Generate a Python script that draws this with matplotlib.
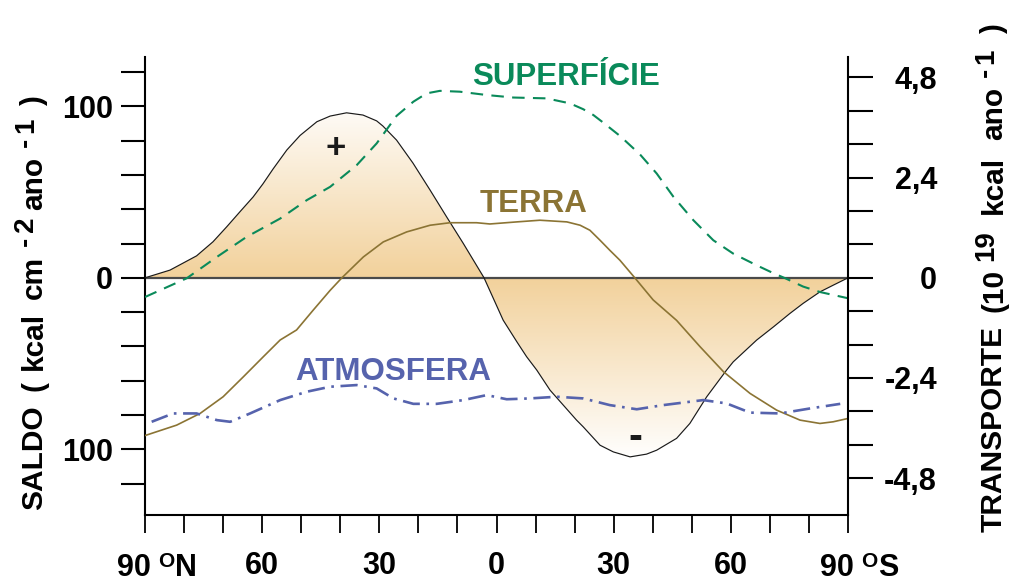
import numpy as np
import matplotlib
matplotlib.use("Agg")
import matplotlib.pyplot as plt
from matplotlib.colors import to_rgb
from matplotlib.transforms import IdentityTransform

plt.rcParams['font.family'] = ['Liberation Sans', 'DejaVu Sans']
plt.rcParams['font.weight'] = 'bold'

# --- data (latitude: + = north, - = south) ---
# SALDO (kcal cm-2 ano-1), left axis
saldo_lat = [90, 83.6, 76.8, 72.6, 69.1, 65.7, 62.3, 59.8, 57.2, 53.7, 50.3, 46, 42.6, 38.4, 34.2,
             30.7, 29.1, 25.6, 21.4, 17, 12.8, 8.5, 3.2, -1.7, -5.2, -7.7, -10.3, -13.7, -20.5,
             -22.2, -26.5, -29.9, -34.2, -38.4, -41, -46.1, -49.5, -53.8, -58.9, -60.6, -66.6,
             -70.9, -75.1, -78.5, -82.8, -86.2, -90]
saldo = [0, 4.5, 12.8, 21, 29.7, 38.5, 47.2, 54.8, 63.5, 74.5, 83, 91, 94.3, 96.2, 94.9,
         91.5, 88.5, 80.3, 66.9, 51.1, 35.6, 20, 0, -24.7, -37.3, -46, -53.8, -65.5, -83,
         -86.9, -97.6, -101.5, -104.4, -102.8, -100.5, -93.6, -84.9, -69.4, -53.8, -49, -36.3,
         -28.6, -20.8, -14.9, -8.2, -4.3, 0]

# TRANSPORTE (10^19 kcal ano-1), right axis
sup_lat = [90, 79.3, 71.6, 64, 55.4, 48.6, 42.6, 35.8, 30.7, 25.6, 21.3, 17.9, 14.5, 9.4, 2.5,
           -4.3, -12.8, -18.8, -22.2, -24.8, -27.3, -31.6, -36.7, -41, -45.3, -50.4, -55.5,
           -60.6, -66.6, -70.9, -73.9, -78.5, -82.8, -90]
superficie = [-0.46, -0.01, 0.50, 0.98, 1.42, 1.86, 2.18, 2.70, 3.22, 3.88, 4.22, 4.42, 4.48, 4.46, 4.38,
              4.32, 4.30, 4.18, 4.04, 3.90, 3.72, 3.40, 2.96, 2.50, 1.94, 1.38, 0.90,
              0.58, 0.30, 0.11, -0.01, -0.21, -0.34, -0.49]

terra_lat = [90, 81.9, 75.9, 70, 64.8, 59.7, 55.4, 51.2, 46.9, 42.6, 39.6, 34.1, 29, 23, 17, 11.9,
             5.1, 1.7, -5.2, -11.1, -18, -21.4, -23.9, -26.5, -29, -31.6, -35.4, -40.1, -46.1,
             -52.1, -58.1, -64.9, -71.7, -77.7, -82.8, -86.2, -90]
terra = [-3.78, -3.53, -3.25, -2.85, -2.37, -1.89, -1.49, -1.25, -0.77, -0.30, 0.0, 0.50, 0.86, 1.10,
         1.26, 1.32, 1.32, 1.29, 1.34, 1.38, 1.34, 1.26, 1.14, 0.90, 0.66, 0.42, 0.0, -0.53, -1.02,
         -1.65, -2.25, -2.77, -3.17, -3.41, -3.49, -3.45, -3.37]

atm_lat = [88.3, 82.8, 76.8, 71.6, 68.2, 63.1, 55.4, 48.6, 42.6, 35.8, 30.7, 26.4, 21.3, 15.3, 8.5,
           2.5, -2.6, -8.6, -15.4, -22.2, -29, -35.9, -42.7, -52.9, -58.9, -64.9, -72.6, -80.3, -88]
atmosfera = [-3.45, -3.25, -3.25, -3.41, -3.45, -3.25, -2.93, -2.73, -2.61, -2.57, -2.65, -2.89,
             -3.02, -3.02, -2.93, -2.81, -2.91, -2.89, -2.85, -2.89, -3.05, -3.15, -3.05, -2.93,
             -3.01, -3.23, -3.25, -3.13, -3.02]

x_ticks = [90, 80, 70, 60, 50, 40, 30, 20, 10, 0, -10, -20, -30, -40, -50, -60, -70, -80, -90]
x_labels = ["", "", "", "60", "", "", "30", "", "", "0", "", "", "30", "", "", "60", "", "", ""]
left_ticks = [120, 100, 80, 60, 40, 20, 0, -20, -40, -60, -80, -100, -120]
left_labels = ["", "100", "", "", "", "", "0", "", "", "", "", "100", ""]
right_ticks = [4.8, 4.0, 3.2, 2.4, 1.6, 0.8, 0, -0.8, -1.6, -2.4, -3.2, -4.0, -4.8]
right_labels = ["4,8", "", "", "2,4", "", "", "0", "", "", "-2,4", "", "", "-4,8"]

GREEN = '#0A8A5A'
BROWN = '#8B7434'
BLUE = '#5663AD'

fig = plt.figure(figsize=(10.12, 5.83), dpi=100)
ax = fig.add_axes([0.1433, 0.1166, 0.6947, 0.7861])
ax2 = ax.twinx()

ylo, yhi = -138.3, 128.9
ax.set_xlim(90, -90)
ax.set_ylim(ylo, yhi)
ax2.set_ylim(ylo * 0.0411, yhi * 0.0411)

# gradient fill of the SALDO lobes
poly = ax.fill_between(saldo_lat, saldo, 0, color='none', lw=0)
yy = np.linspace(ylo, yhi, 600)
frac = np.clip(np.abs(yy) / 106, 0, 1)[:, None, None]
c0 = np.array(to_rgb('#F2D19B'))
c1 = np.array(to_rgb('#FFFFFF'))
img = (1 - frac) * c0 + frac * c1
im = ax.imshow(img, extent=[90, -90, ylo, yhi], origin='lower', aspect='auto',
               zorder=1, interpolation='bilinear')
im.set_clip_path(poly.get_paths()[0], transform=ax.transData)
ax.set_xlim(90, -90)
ax.set_ylim(ylo, yhi)

ax.axhline(0, color='#4a4a4a', lw=1.6, zorder=2)
ax.plot(saldo_lat, saldo, color='#1a1a1a', lw=0.85, zorder=3)

ax2.plot(sup_lat, superficie, color=GREEN, lw=1.5, ls=(0, (6, 4)))
ax2.plot(terra_lat, terra, color=BROWN, lw=1.2)
ax2.plot(atm_lat, atmosfera, color=BLUE, lw=1.9, ls=(0, (6.5, 2.5, 1, 2.5)))

# spines
for a in (ax, ax2):
    a.spines['top'].set_visible(False)
ax.spines['right'].set_visible(False)
ax2.spines['left'].set_visible(False)
ax2.spines['bottom'].set_visible(False)
for s in ('left', 'bottom'):
    ax.spines[s].set_linewidth(1.5)
ax2.spines['right'].set_linewidth(1.5)

# ticks
ax.set_xticks(x_ticks, x_labels)
ax.tick_params(axis='x', direction='out', length=13, width=1.3, pad=13, labelsize=22)
ax.set_yticks(left_ticks, left_labels)
ax.tick_params(axis='y', direction='out', length=17, width=1.5, pad=6, labelsize=22)
ax2.set_yticks(right_ticks, right_labels)
ax2.tick_params(axis='y', direction='out', length=18, width=1.5, pad=46, labelsize=22)
for lab in ax2.get_yticklabels():
    lab.set_horizontalalignment('right')

# 90 N / 90 S labels
for lat, hemi in ((90, 'N'), (-90, 'S')):
    kw = dict(xycoords=('data', 'axes fraction'), textcoords='offset points',
              va='top', annotation_clip=False)
    ax.annotate("90", xy=(lat, 0), xytext=(-8, -27.4), ha='center', fontsize=22, **kw)
    ax.annotate("O", xy=(lat, 0), xytext=(9.5, -26.4), ha='left', fontsize=15, **kw)
    ax.annotate(hemi, xy=(lat, 0), xytext=(21.5, -27.4), ha='left', fontsize=22, **kw)

# curve labels
ax.text(-17.8, 112.3, "SUPERFÍCIE", color=GREEN, fontsize=22.5, ha='center', va='baseline')
ax.text(-9.6, 38.3, "TERRA", color=BROWN, fontsize=22.5, ha='center', va='baseline')
ax.text(26.4, -59.7, "ATMOSFERA", color=BLUE, fontsize=22.5, ha='center', va='baseline')
ax.text(41.1, 75.6, "+", color='#1a1a1a', fontsize=25, ha='center', va='center', zorder=4)
ax.text(-35.5, -93.6, "-", color='#1a1a1a', fontsize=30, ha='center', va='center', zorder=4)


# vertical axis titles built from pieces (text, size, raise_px, gap_px), bottom to top
def stacked_label(x, y, pieces):
    renderer = fig.canvas.get_renderer()
    for text, size, rise, gap in pieces:
        t = fig.text(x - rise, y, text, rotation=90, rotation_mode='anchor',
                     ha='left', va='baseline', fontsize=size, transform=IdentityTransform())
        y = t.get_window_extent(renderer).y1 + gap


stacked_label(42, 583 - 510, [
    ("SALDO", 21.5, 0, 14), ("(", 21.5, 0, 12), ("kcal", 21.5, 0, 12), ("cm", 21.5, 0, 10),
    ("-", 20, 9, 5), ("2", 20, 9, 6), ("ano", 21.5, 0, 10), ("-", 20, 9, 5), ("1", 20, 9, 12),
    (")", 21.5, 0, 0)])
stacked_label(1002, 583 - 532, [
    ("TRANSPORTE", 21.5, 0, 14), ("(10", 21.5, 0, 8), ("19", 20, 9, 16), ("kcal", 21.5, 0, 16),
    ("ano", 21.5, 0, 10), ("-", 20, 9, 4), ("1", 20, 9, 14), (")", 21.5, 0, 0)])

fig.savefig("out.png", dpi=100)
